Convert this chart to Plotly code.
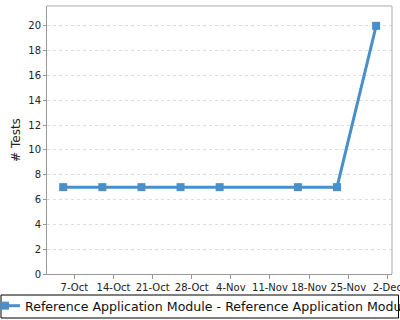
import plotly.graph_objects as go

dates = ["2012-10-05", "2012-10-12", "2012-10-19", "2012-10-26", "2012-11-02",
         "2012-11-16", "2012-11-23", "2012-11-30"]
tests = [7, 7, 7, 7, 7, 7, 7, 20]
series_name = "Reference Application Module - Reference Application Module"
y_title = "# Tests"

W, H = 400, 320
L, R, T, B = 47, 8, 6, 46
color = "#4A8FCA"
pw, ph = W - L - R, H - T - B

fig = go.Figure()
fig.add_trace(go.Scatter(
    x=dates, y=tests, mode="lines+markers", name=series_name,
    line=dict(color=color, width=3),
    marker=dict(symbol="square", size=8, color=color),
    showlegend=True,
))

font = "DejaVu Sans, sans-serif"
fig.update_layout(
    width=W, height=H,
    margin=dict(l=L, r=R, t=T, b=B, pad=0, autoexpand=False),
    paper_bgcolor="white", plot_bgcolor="white",
    font=dict(family=font, size=10, color="#222"),
    showlegend=True,
    legend=dict(
        orientation="h", x=(-15 - L) / pw, xanchor="left",
        y=-(291 - (H - B)) / ph, yanchor="top",
        bgcolor="rgba(0,0,0,0)", borderwidth=0,
        font=dict(family=font, size=12.6, color="#111"),
        itemwidth=30, tracegroupgap=0,
    ),
    xaxis=dict(
        type="date",
        range=["2012-10-02 02:24", "2012-12-02 20:10"],
        tick0="2012-10-07", dtick=7 * 86400000,
        tickformat="%-d-%b", tickangle=0, ticklabeloverflow="allow",
        showgrid=False, zeroline=False,
        showline=True, linecolor="#999", linewidth=1,
        ticks="outside", ticklen=4, tickcolor="#999",
        tickfont=dict(size=10, color="#222"),
        automargin=False,
    ),
    yaxis=dict(
        range=[0, 21.6], dtick=2, tick0=0,
        showgrid=True, gridcolor="#dddddd", griddash="3px,3px", gridwidth=1,
        zeroline=False,
        showline=True, linecolor="#999", linewidth=1,
        ticks="outside", ticklen=3, tickcolor="#999",
        tickfont=dict(size=10, color="#222"),
        title=dict(text=y_title, font=dict(size=12, color="#222"), standoff=5),
        automargin=False,
    ),
)

# top/right plot frame (lighter)
fig.add_shape(type="line", xref="paper", yref="paper", x0=0, x1=1, y0=1, y1=1,
              line=dict(color="#c4c4c4", width=1.5))
fig.add_shape(type="line", xref="paper", yref="paper", x0=1, x1=1, y0=0, y1=1,
              line=dict(color="#c4c4c4", width=1.5))

# legend box
fig.add_shape(type="rect", xref="paper", yref="paper",
              x0=(1 - L) / pw, x1=(398.5 - L) / pw,
              y0=-(318 - (H - B)) / ph, y1=-(295 - (H - B)) / ph,
              line=dict(color="black", width=1))

fig.write_html("out.html")
